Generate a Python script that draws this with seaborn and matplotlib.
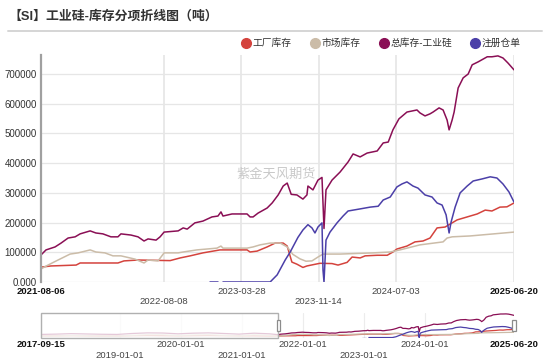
import matplotlib
matplotlib.use("Agg")
import matplotlib.pyplot as plt
import matplotlib.dates as mdates
import matplotlib.transforms as mtransforms
from matplotlib.patches import Rectangle
from matplotlib.lines import Line2D
import seaborn as sns
import pandas as pd

# ---- data (tons) ----
total_dates = ["2021-08-06", "2021-08-21", "2021-09-17", "2021-10-05", "2021-10-26", "2021-11-16",
               "2021-12-01", "2021-12-31", "2022-01-17", "2022-02-07", "2022-03-03", "2022-03-24",
               "2022-04-02", "2022-05-02", "2022-05-23", "2022-06-10", "2022-06-22", "2022-07-16",
               "2022-07-28", "2022-08-09", "2022-09-20", "2022-10-05", "2022-10-17", "2022-11-09",
               "2022-12-03", "2022-12-30", "2023-01-17", "2023-01-26", "2023-02-01", "2023-02-28",
               "2023-04-14", "2023-04-23", "2023-05-02", "2023-05-17", "2023-06-13", "2023-06-28",
               "2023-07-16", "2023-07-31", "2023-08-12", "2023-08-24", "2023-09-10", "2023-09-28",
               "2023-10-10", "2023-10-13", "2023-10-28", "2023-11-12", "2023-11-24", "2023-11-30",
               "2023-12-06", "2023-12-24", "2024-01-17", "2024-02-10", "2024-02-25", "2024-03-17",
               "2024-04-07", "2024-05-07", "2024-05-25", "2024-06-09", "2024-06-23", "2024-07-11",
               "2024-08-04", "2024-09-03", "2024-09-12", "2024-09-27", "2024-10-12", "2024-10-21",
               "2024-11-08", "2024-11-20", "2024-12-02", "2024-12-08", "2024-12-17", "2024-12-23",
               "2025-01-04", "2025-01-19", "2025-02-03", "2025-02-15", "2025-03-05", "2025-04-01",
               "2025-04-15", "2025-05-03", "2025-05-18", "2025-06-02", "2025-06-20"]
total_vals = [91000, 108000, 118000, 131000, 148000, 152000,
              162000, 172000, 165000, 162000, 152000, 152000,
              162000, 158000, 152000, 138000, 145000, 141000,
              152000, 168000, 172000, 182000, 178000, 199000,
              205000, 219000, 222000, 236000, 222000, 229000,
              229000, 219000, 219000, 232000, 249000, 266000,
              293000, 323000, 333000, 295000, 293000, 279000,
              293000, 323000, 310000, 343000, 352000, 180000,
              310000, 343000, 370000, 404000, 431000, 421000,
              434000, 441000, 468000, 471000, 512000, 549000,
              572000, 579000, 569000, 559000, 566000, 572000,
              586000, 579000, 545000, 512000, 545000, 572000,
              653000, 687000, 700000, 731000, 741000, 758000,
              758000, 761000, 754000, 737000, 714000]

factory_dates = ["2021-08-06", "2021-09-05", "2021-11-19", "2021-12-01", "2022-03-24", "2022-04-11",
                 "2022-05-23", "2022-08-27", "2022-09-26", "2022-10-26", "2022-12-03", "2023-01-23",
                 "2023-04-14", "2023-04-23", "2023-05-14", "2023-06-13", "2023-07-07", "2023-07-31",
                 "2023-08-12", "2023-08-26", "2023-09-10", "2023-09-28", "2023-10-10", "2023-11-18",
                 "2023-12-24", "2024-01-11", "2024-02-07", "2024-02-22", "2024-03-17", "2024-04-01",
                 "2024-05-07", "2024-06-06", "2024-06-23", "2024-07-05", "2024-08-04", "2024-08-28",
                 "2024-09-21", "2024-10-12", "2024-11-02", "2024-11-26", "2024-12-17", "2025-01-01",
                 "2025-01-31", "2025-03-02", "2025-03-26", "2025-04-15", "2025-05-09", "2025-05-30",
                 "2025-06-20"]
factory_vals = [50000, 54000, 57000, 64000, 64000, 71000,
                74000, 72000, 81000, 88000, 98000, 108000,
                108000, 101000, 104000, 118000, 131000, 131000,
                121000, 67000, 60000, 49000, 54000, 63000,
                62000, 57000, 66000, 84000, 81000, 88000,
                90000, 90000, 101000, 111000, 121000, 135000,
                138000, 148000, 182000, 185000, 199000, 209000,
                219000, 229000, 242000, 239000, 252000, 253000,
                266000]

market_dates = ["2021-08-06", "2021-08-27", "2021-09-26", "2021-11-01", "2021-11-25", "2021-12-31",
                "2022-01-17", "2022-02-13", "2022-03-09", "2022-04-02", "2022-04-29", "2022-05-14",
                "2022-06-10", "2022-06-22", "2022-07-22", "2022-08-09", "2022-09-20", "2022-10-05",
                "2022-11-15", "2023-01-14", "2023-01-26", "2023-02-01", "2023-04-14", "2023-05-02",
                "2023-05-23", "2023-06-22", "2023-07-22", "2023-08-12", "2023-08-29", "2023-09-19",
                "2023-10-07", "2023-10-25", "2023-11-12", "2023-11-27", "2024-01-17", "2024-04-25",
                "2024-06-15", "2024-07-14", "2024-09-12", "2024-11-20", "2024-12-02", "2024-12-17",
                "2025-02-09", "2025-06-20"]
market_vals = [44000, 57000, 74000, 94000, 98000, 108000,
               101000, 98000, 88000, 88000, 81000, 77000,
               64000, 74000, 71000, 98000, 98000, 101000,
               108000, 114000, 121000, 114000, 114000, 118000,
               125000, 131000, 131000, 118000, 93000, 78000,
               70000, 71000, 84000, 94000, 94000, 98000,
               101000, 108000, 125000, 135000, 148000, 152000,
               155000, 168000]

warrant_dates = ["2022-12-24", "2023-01-17",
                 "2023-02-01", "2023-06-22", "2023-07-13", "2023-08-06", "2023-08-21", "2023-09-13",
                 "2023-09-28", "2023-10-13", "2023-10-25", "2023-11-03", "2023-11-12", "2023-11-24",
                 "2023-11-27", "2023-11-30", "2023-12-06", "2023-12-18", "2024-01-08", "2024-01-26",
                 "2024-02-10", "2024-03-17", "2024-04-16", "2024-05-10", "2024-05-25", "2024-06-15",
                 "2024-07-05", "2024-07-20", "2024-08-04", "2024-08-22", "2024-09-06", "2024-09-27",
                 "2024-10-18", "2024-11-02", "2024-11-17", "2024-11-29", "2024-12-08", "2024-12-14",
                 "2024-12-26", "2025-01-10", "2025-01-31", "2025-02-18", "2025-03-17", "2025-04-10",
                 "2025-04-30", "2025-05-18", "2025-06-05", "2025-06-20"]
warrant_vals = [0, 0,
                0, 0, 24000, 74000, 101000, 150000,
                175000, 193000, 182000, 165000, 185000, 199000,
                40000, 0, 141000, 168000, 199000, 222000,
                239000, 246000, 252000, 255000, 276000, 286000,
                320000, 330000, 337000, 323000, 316000, 293000,
                286000, 266000, 259000, 226000, 165000, 202000,
                252000, 300000, 323000, 340000, 347000, 354000,
                350000, 330000, 303000, 269000]
warrant_segment = [0, 0] + [1] * 46

# earlier history, only visible in the zoom slider
hist_dates = ["2017-09-15", "2017-12-15", "2018-03-15", "2018-06-15", "2018-09-15", "2018-12-15",
              "2019-03-15", "2019-06-15", "2019-09-15", "2019-12-15", "2020-03-15", "2020-06-15",
              "2020-09-15", "2020-12-15", "2021-03-15", "2021-06-15"]
hist_total = [100000, 110000, 125000, 115000, 105000, 100000, 130000, 150000,
              145000, 120000, 140000, 150000, 130000, 110000, 140000, 120000]
hist_factory = [50000, 55000, 60000, 55000, 50000, 50000, 60000, 65000,
                60000, 55000, 60000, 65000, 60000, 55000, 55000, 50000]
hist_market = [50000, 55000, 65000, 60000, 55000, 50000, 70000, 85000,
               85000, 65000, 80000, 85000, 70000, 55000, 85000, 70000]

series_names = ["工厂库存", "市场库存", "总库存-工业硅", "注册仓单"]
series_colors = ["#d4433d", "#cbbca8", "#8a0f55", "#4b3fa8"]

main_ticks = ["2021-08-06", "2022-08-08", "2023-03-28", "2023-11-14", "2024-07-03", "2025-06-20"]
main_tick_rows = [0, 1, 0, 1, 0, 0]
nav_ticks = ["2017-09-15", "2019-01-01", "2020-01-01", "2021-01-01", "2022-01-01",
             "2023-01-01", "2024-01-01", "2025-06-20"]
nav_tick_rows = [0, 1, 0, 1, 0, 1, 0, 0]

# ---- frames ----
def frame(dates, vals):
    return pd.DataFrame({"date": pd.to_datetime(dates), "value": vals})

df_factory = frame(factory_dates, factory_vals)
df_market = frame(market_dates, market_vals)
df_total = frame(total_dates, total_vals)
df_warrant = frame(warrant_dates, warrant_vals)
df_warrant["seg"] = warrant_segment

nav_factory = pd.concat([frame(hist_dates, hist_factory), df_factory])
nav_market = pd.concat([frame(hist_dates, hist_market), df_market])
nav_total = pd.concat([frame(hist_dates, hist_total), df_total])

sns.set_style("white")
plt.rcParams["font.family"] = ["Liberation Sans", "Noto Sans CJK SC"]

W, H = 550, 362
fig = plt.figure(figsize=(5.5, 3.62), dpi=100)

ax = fig.add_axes([41 / W, (H - 282) / H, 473 / W, 227 / H])
nav = fig.add_axes([41 / W, (H - 338) / H, 473 / W, 25 / H])

# ---- main chart ----
for df, c in zip([df_factory, df_market, df_total], series_colors[:3]):
    sns.lineplot(data=df, x="date", y="value", color=c, linewidth=1.1, ax=ax, legend=False)
sns.lineplot(data=df_warrant, x="date", y="value", units="seg", estimator=None,
             color=series_colors[3], linewidth=1.1, ax=ax, legend=False)

start, end = pd.Timestamp(main_ticks[0]), pd.Timestamp(main_ticks[-1])
ax.set_xlim(start, end)
ax.set_ylim(0, 764000)
yt = list(range(0, 800000, 100000))
ax.set_yticks(yt)
ax.set_yticklabels(["0.000"] + [str(v) for v in yt[1:]], fontsize=7, color="#333333")
ax.set_xticks(pd.to_datetime(main_ticks))
ax.set_xticklabels([])
ax.tick_params(axis="both", length=0, pad=3)
ax.grid(axis="y", color="#e6e6e6", linewidth=0.9)
ax.grid(axis="x", color="#e3e3e3", linewidth=1.1)
ax.set_xlabel("")
ax.set_ylabel("")
for s in ["top", "right", "bottom"]:
    ax.spines[s].set_visible(False)
ax.spines["left"].set_color("#a0a0a0")
ax.spines["left"].set_linewidth(1.6)

for i, (t, r) in enumerate(zip(main_ticks, main_tick_rows)):
    edge = i in (0, len(main_ticks) - 1)
    ax.annotate(t, xy=(pd.Timestamp(t), 0), xycoords=("data", "axes fraction"),
                xytext=(0, -6.5 - 7.2 * r), textcoords="offset points",
                ha="center", va="center", fontsize=6.8,
                fontweight="bold" if edge else "normal",
                color="#111111" if edge else "#444444", annotation_clip=False)

# ---- zoom slider ----
for df, c in zip([nav_factory, nav_market, nav_total], series_colors[:3]):
    sns.lineplot(data=df, x="date", y="value", color=c, linewidth=0.9, ax=nav, legend=False)
sns.lineplot(data=df_warrant, x="date", y="value", units="seg", estimator=None,
             color=series_colors[3], linewidth=0.9, ax=nav, legend=False)
nstart, nend = pd.Timestamp(nav_ticks[0]), pd.Timestamp(nav_ticks[-1])
nav.set_xlim(nstart, nend)
nav.set_ylim(-15000, 790000)
nav.set_xticks(pd.to_datetime(nav_ticks))
nav.set_xticklabels([])
nav.set_yticks([])
nav.tick_params(length=0)
nav.grid(axis="x", color="#ececec", linewidth=0.8)
nav.set_xlabel("")
nav.set_ylabel("")
for s in nav.spines.values():
    s.set_visible(False)

blend = mtransforms.blended_transform_factory(nav.transData, nav.transAxes)
x0, x1 = mdates.date2num(nstart), mdates.date2num(start)
nav.add_patch(Rectangle((x0, 0), x1 - x0, 1, transform=blend, facecolor="white",
                        alpha=0.78, edgecolor="none", zorder=5, clip_on=False))
nav.add_patch(Rectangle((x0, 0), x1 - x0, 1, transform=blend, facecolor="none",
                        edgecolor="#b0b0b0", linewidth=1.0, zorder=6, clip_on=False))
for hx in [x1, mdates.date2num(nend)]:
    nav.add_patch(Rectangle((hx - 9, 0.3), 18, 0.42, transform=blend, facecolor="white",
                            edgecolor="#8c8c8c", linewidth=0.9, zorder=7, clip_on=False))

for i, (t, r) in enumerate(zip(nav_ticks, nav_tick_rows)):
    edge = i in (0, len(nav_ticks) - 1)
    nav.annotate(t, xy=(pd.Timestamp(t), 0), xycoords=("data", "axes fraction"),
                 xytext=(0, -4.8 - 7.6 * r), textcoords="offset points",
                 ha="center", va="center", fontsize=6.8,
                 fontweight="bold" if edge else "normal",
                 color="#111111" if edge else "#444444", annotation_clip=False)

# ---- title, legend, watermark ----
fig.text(8 / W, 1 - 16 / H, "【SI】工业硅-库存分项折线图（吨）", fontsize=9.3, fontweight="bold",
         color="#333333", ha="left", va="center")
fig.add_artist(Line2D([8 / W, 542 / W], [1 - 31 / H, 1 - 31 / H], color="#d5d5d5", linewidth=1.4))

handles = [Line2D([], [], marker="o", linestyle="none", markersize=7, color=c) for c in series_colors]
fig.legend(handles, series_names, loc="center", bbox_to_anchor=(381 / W, 1 - 43 / H), ncol=4,
           frameon=False, fontsize=7, handletextpad=0.15, columnspacing=1.9, handlelength=1.0,
           labelcolor="#333333")

fig.text(276 / W, 1 - 175 / H, "紫金天风期货", fontsize=9.5, color="#c9c9c9", ha="center", va="center")

fig.savefig("out.png", dpi=100)
